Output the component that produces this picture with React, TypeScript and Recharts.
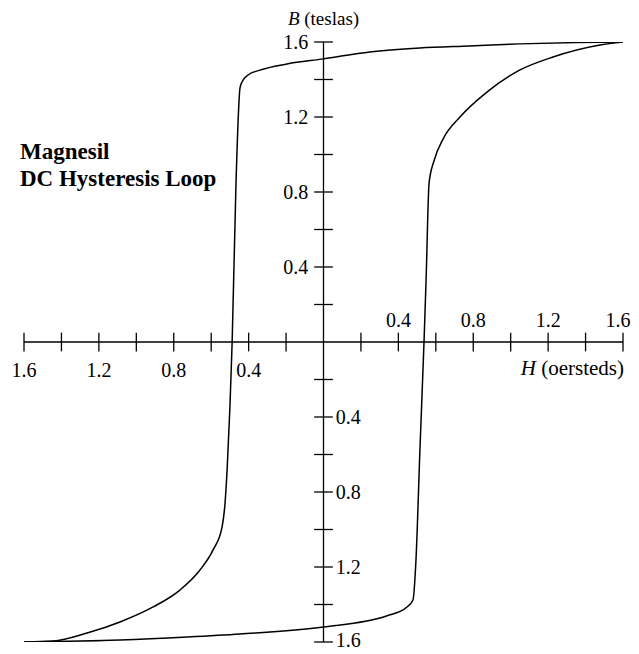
import { LineChart, Line, XAxis, YAxis, ReferenceLine } from "recharts";

// H (oersteds) and B (teslas), each branch listed left to right
const descendingH = [
  -1.6, -1.445, -1.263, -1.087, -0.91, -0.767, -0.66, -0.59, -0.542, -0.526,
  -0.515, -0.5, -0.488, -0.467, -0.446, -0.435, -0.403, -0.34, -0.195, 0,
  0.248, 0.515, 0.78, 1.05, 1.35, 1.6,
];
const descendingB = [
  -1.6, -1.595, -1.552, -1.493, -1.413, -1.323, -1.216, -1.109, -0.987, -0.859,
  -0.683, -0.35, 0, 0.864, 1.355, 1.387, 1.424, 1.45, 1.483, 1.51,
  1.547, 1.568, 1.579, 1.59, 1.597, 1.6,
];

const ascendingH = [
  -1.6, -1.087, -0.729, -0.446, 0, 0.34, 0.446, 0.478, 0.494, 0.515, 0.537,
  0.548, 0.564, 0.59, 0.64, 0.729, 0.873, 1.05, 1.226, 1.477, 1.6,
];
const ascendingB = [
  -1.6, -1.589, -1.573, -1.557, -1.52, -1.46, -1.413, -1.376, -1.163, -0.58, 0,
  0.331, 0.848, 0.965, 1.085, 1.2, 1.333, 1.451, 1.52, 1.584, 1.6,
];

const domain: [number, number] = [-1.6, 1.6];
const tickValues = [
  -1.6, -1.4, -1.2, -1.0, -0.8, -0.6, -0.4, -0.2, 0.2, 0.4, 0.6, 0.8, 1.0, 1.2,
  1.4, 1.6,
];
const labelledTicks = [-1.6, -1.2, -0.8, -0.4, 0.4, 0.8, 1.2, 1.6];

const descending = descendingH.map((h, i) => ({ h, b: descendingB[i] }));
const ascending = ascendingH.map((h, i) => ({ h, b: ascendingB[i] }));

// half length of the little cross ticks, in axis units
const TICK = 0.05;
const FONT = "'Liberation Serif', 'Times New Roman', serif";

const fmt = (v: number) => Math.abs(v).toFixed(1);

const BTitle = (props: any) => {
  const vb = props.viewBox || {};
  return (
    <text
      x={vb.x}
      y={vb.y - 17}
      textAnchor="middle"
      fontFamily={FONT}
      fontSize={19}
      fill="#000"
    >
      <tspan fontStyle="italic">B</tspan> (teslas)
    </text>
  );
};

const HTitle = (props: any) => {
  const vb = props.viewBox || {};
  return (
    <text
      x={vb.x + vb.width + 1}
      y={vb.y + 33}
      textAnchor="end"
      fontFamily={FONT}
      fontSize={21}
      fill="#000"
    >
      <tspan fontStyle="italic">H</tspan> (oersteds)
    </text>
  );
};

const tickLabel = (v: number, position: string, offset: number) =>
  labelledTicks.includes(v)
    ? {
        value: fmt(v),
        position,
        offset,
        // end labels would otherwise run past the page edge
        dx: v === 1.6 && position === "top" ? -5 : 0,
        dy: v === -1.6 && position === "right" ? -2 : 0,
        fill: "#000",
        fontSize: 20,
        fontFamily: FONT,
      }
    : undefined;

const App = () => {
  return (
    <div style={{ position: "relative", width: 623, height: 646 }}>
      {/* chart covers the whole window, body margin included */}
      <div style={{ position: "absolute", left: -8, top: -8 }}>
        <LineChart
          width={639}
          height={654}
          margin={{ top: 42, right: 16, bottom: 12, left: 24 }}
        >
          <XAxis
            type="number"
            dataKey="h"
            domain={domain}
            allowDataOverflow
            hide
          />
          <YAxis type="number" domain={domain} allowDataOverflow hide />

          {/* axes through the origin */}
          <ReferenceLine y={0} stroke="#000" strokeWidth={1.3} label={<HTitle />} />
          <ReferenceLine x={0} stroke="#000" strokeWidth={1.3} label={<BTitle />} />

          {tickValues.map((t) => (
            <ReferenceLine
              key={"hx" + t}
              segment={[
                { x: t, y: -TICK },
                { x: t, y: TICK },
              ]}
              stroke="#000"
              strokeWidth={1.3}
              label={tickLabel(t, t < 0 ? "bottom" : "top", t < 0 ? 11 : 6)}
            />
          ))}
          {tickValues.map((t) => (
            <ReferenceLine
              key={"by" + t}
              segment={[
                { x: -TICK, y: t },
                { x: TICK, y: t },
              ]}
              stroke="#000"
              strokeWidth={1.3}
              label={tickLabel(t, t > 0 ? "left" : "right", t > 0 ? 6 : 3)}
            />
          ))}

          <Line
            data={descending}
            dataKey="b"
            type="monotone"
            stroke="#000"
            strokeWidth={1.5}
            dot={false}
            activeDot={false}
            isAnimationActive={false}
          />
          <Line
            data={ascending}
            dataKey="b"
            type="monotone"
            stroke="#000"
            strokeWidth={1.5}
            dot={false}
            activeDot={false}
            isAnimationActive={false}
          />
        </LineChart>
      </div>

      <div
        style={{
          position: "absolute",
          left: 12,
          top: 130,
          fontFamily: FONT,
          fontWeight: "bold",
          fontSize: 23,
          lineHeight: "27px",
          color: "#000",
        }}
      >
        Magnesil
        <br />
        DC Hysteresis Loop
      </div>
    </div>
  );
};

export default App;
